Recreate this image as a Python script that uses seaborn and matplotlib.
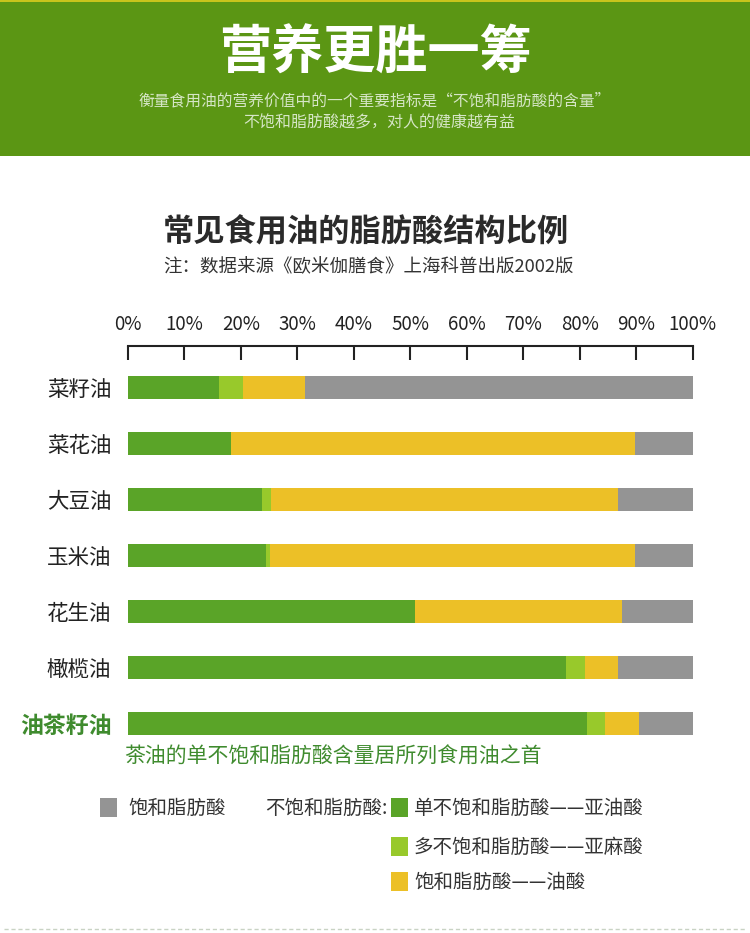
import matplotlib
matplotlib.use("Agg")
import matplotlib.pyplot as plt
from matplotlib.patches import Rectangle
from matplotlib.lines import Line2D
import numpy as np
import pandas as pd
import seaborn as sns

# --- data (percent of total fatty acids) ---
oils = ["菜籽油", "菜花油", "大豆油", "玉米油", "花生油", "橄榄油", "油茶籽油"]
mono = [16.1, 18.2, 23.7, 24.4, 50.8, 77.6, 81.2]      # dark green
poly = [4.3, 0.0, 1.6, 0.7, 0.0, 3.4, 3.3]             # light green
oleic = [11.0, 71.5, 61.5, 64.6, 36.6, 5.8, 6.0]       # yellow
saturated = [68.6, 10.3, 13.2, 10.3, 12.6, 13.2, 9.5]  # gray

x_ticks = [0, 10, 20, 30, 40, 50, 60, 70, 80, 90, 100]
x_tick_labels = [f"{v}%" for v in x_ticks]

legend_labels = ["饱和脂肪酸", "单不饱和脂肪酸——亚油酸", "多不饱和脂肪酸——亚麻酸", "饱和脂肪酸——油酸"]

C_MONO = "#5aa428"
C_POLY = "#98c92b"
C_OLEIC = "#ecc027"
C_SAT = "#949494"
C_HEAD = "#5b9614"
C_TEXT_GREEN = "#3f8b2e"

sns.set_style("white")
plt.rcParams["font.family"] = ["Noto Sans CJK SC", "DejaVu Sans"]

W, H = 750, 933
fig = plt.figure(figsize=(7.5, 9.33), dpi=100)


def fx(px):
    return px / W


def fy(py):
    return 1 - py / H


# header band
fig.patches.append(Rectangle((0, fy(156)), 1, 156 / H, transform=fig.transFigure,
                             facecolor=C_HEAD, edgecolor="none", zorder=0))
fig.patches.append(Rectangle((0, fy(2)), 1, 2 / H, transform=fig.transFigure,
                             facecolor="#c8c41c", edgecolor="none", zorder=1))
fig.text(fx(375), fy(53), "营养更胜一筹", color="white", fontsize=37.5, fontweight="bold",
         ha="center", va="center")
fig.text(fx(375), fy(101), "衡量食用油的营养价值中的一个重要指标是“不饱和脂肪酸的含量”",
         color="#d6e6c6", fontsize=11.3, ha="center", va="center")
fig.text(fx(379), fy(123), "不饱和脂肪酸越多，对人的健康越有益",
         color="#d6e6c6", fontsize=11.5, ha="center", va="center")

# chart title and note
fig.text(fx(163), fy(232), "常见食用油的脂肪酸结构比例", color="#2a2a2a", fontsize=22.5,
         fontweight="bold", ha="left", va="center")
fig.text(fx(163), fy(267), "注：数据来源《欧米伽膳食》上海科普出版2002版", color="#333333",
         fontsize=13.3, ha="left", va="center")

# stacked horizontal bars
df = pd.DataFrame({"oil": oils, "mono": mono, "poly": poly, "oleic": oleic, "sat": saturated})
df["c1"] = df["mono"]
df["c2"] = df["c1"] + df["poly"]
df["c3"] = df["c2"] + df["oleic"]
df["c4"] = df["c3"] + df["sat"]

ax = fig.add_axes([fx(128), fy(740), fx(692.7) - fx(128), fy(346) - fy(740)])
for col, color in [("c4", C_SAT), ("c3", C_OLEIC), ("c2", C_POLY), ("c1", C_MONO)]:
    sns.barplot(data=df, x=col, y="oil", orient="h", color=color, saturation=1,
                width=0.41, linewidth=0, ax=ax)

ax.set_xlim(0, 100)
ax.set_ylim(6.29, -0.74)
ax.set_xlabel("")
ax.set_ylabel("")
ax.xaxis.tick_top()
ax.set_xticks(x_ticks)
ax.set_xticklabels(x_tick_labels)
ax.tick_params(axis="x", direction="in", length=10, width=1.5, color="#222222",
               labelsize=13.5, labelcolor="#222222", pad=8)
ax.tick_params(axis="y", length=0, pad=12, labelsize=15.5, labelcolor="#222222")
for s in ["bottom", "left", "right"]:
    ax.spines[s].set_visible(False)
ax.spines["top"].set_color("#222222")
ax.spines["top"].set_linewidth(1.5)
ax.set_facecolor("none")
last = ax.get_yticklabels()[-1]
last.set_color(C_TEXT_GREEN)
last.set_fontweight("bold")
last.set_fontsize(16.5)

fig.text(fx(124), fy(757), "茶油的单不饱和脂肪酸含量居所列食用油之首", color=C_TEXT_GREEN,
         fontsize=15, ha="left", va="center")

# legend built by hand
def swatch(x, y, color):
    fig.patches.append(Rectangle((fx(x), fy(y + 9)), 17 / W, 19 / H, transform=fig.transFigure,
                                 facecolor=color, edgecolor="none"))

swatch(100, 808, C_SAT)
fig.text(fx(128), fy(808), legend_labels[0], fontsize=14, color="#333333", ha="left", va="center")
fig.text(fx(265), fy(808), "不饱和脂肪酸:", fontsize=14, color="#333333", ha="left", va="center")
for (yy, color, lab) in [(808, C_MONO, legend_labels[1]), (847, C_POLY, legend_labels[2]),
                         (882, C_OLEIC, legend_labels[3])]:
    swatch(391, yy, color)
    fig.text(fx(414), fy(yy), lab, fontsize=14, color="#333333", ha="left", va="center")

# dashed line at bottom
fig.lines.append(Line2D([fx(4), fx(746)], [fy(929), fy(929)], transform=fig.transFigure,
                        color="#c9d3c4", linewidth=1, linestyle=(0, (3, 2))))

fig.savefig("out.png", dpi=100)
